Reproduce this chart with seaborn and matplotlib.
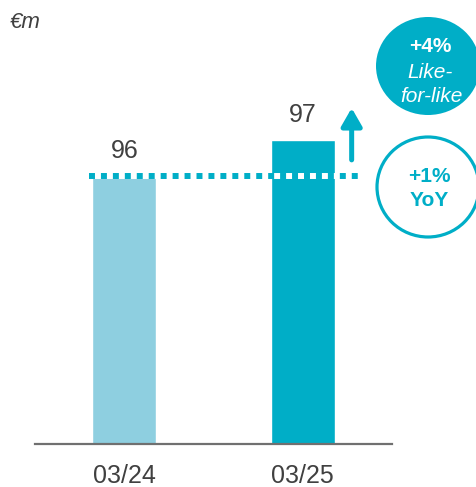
import matplotlib
matplotlib.use("Agg")
import matplotlib.pyplot as plt
import seaborn as sns
import pandas as pd
from matplotlib.patches import Ellipse

periods = ["03/24", "03/25"]
values = [96, 97]
bar_colors = ["#8ECFE0", "#00AEC7"]
unit_label = "€m"
lfl_label = ["+4%", "Like-", "for-like"]
yoy_label = ["+1%", "YoY"]

sns.set_theme(style="white")
plt.rcParams["font.family"] = ["Liberation Sans", "DejaVu Sans"]

W, H = 476, 487
fig = plt.figure(figsize=(W / 100, H / 100), dpi=100)
ax = fig.add_axes([35 / W, (H - 444) / H, (392 - 35) / W, 444 / H])

df = pd.DataFrame({"period": periods, "value": values})
sns.barplot(data=df, x="period", y="value", hue="period", palette=bar_colors,
            width=0.36, legend=False, ax=ax, saturation=1)
ax.set_xlim(-0.5, 1.5)
ax.set_ylim(88.56, 100.89)
ax.set_xlabel("")
ax.set_ylabel("")
ax.set_yticks([])
for s in ["top", "left", "right"]:
    ax.spines[s].set_visible(False)
ax.spines["bottom"].set_color("#707070")
ax.spines["bottom"].set_linewidth(1.6)
ax.tick_params(axis="x", length=0, pad=14.5, labelsize=18, labelcolor="#404040")

for i, v in enumerate(values):
    ax.text(i, v + 0.49, f"{v}", ha="center", va="baseline", fontsize=18, color="#404040")

# dotted reference line at prior-year level
ax.plot([-0.2, 1.31], [values[0], values[0]], color="white", lw=4.3, solid_capstyle="butt", zorder=4)
ax.plot([-0.2, 1.31], [values[0], values[0]], color="#00AEC7", lw=4.3,
        linestyle=(0, (1, 1)), dash_capstyle="butt", zorder=5)

# up arrow
ax.annotate("", xy=(1.274, values[1] + 0.89), xytext=(1.274, values[0] + 0.45),
            arrowprops=dict(arrowstyle="-|>,head_length=0.54,head_width=0.31",
                            color="#00AEC7", lw=3.6, shrinkA=0, shrinkB=0,
                            mutation_scale=20), zorder=6)

# overlay for annotation bubbles (pixel coordinates)
ov = fig.add_axes([0, 0, 1, 1])
ov.set_xlim(0, W)
ov.set_ylim(H, 0)
ov.axis("off")
ov.patch.set_alpha(0)

ov.text(10, 22, unit_label, fontsize=16, style="italic", color="#404040", ha="left", va="center")

ov.add_patch(Ellipse((428, 66), 104, 98, color="#00AEC7", lw=0))
ov.text(430, 46, lfl_label[0], fontsize=15, fontweight="bold", color="white", ha="center", va="center")
ov.text(430, 72, lfl_label[1], fontsize=15, style="italic", color="white", ha="center", va="center")
ov.text(431, 97, lfl_label[2], fontsize=15, style="italic", color="white", ha="center", va="center")

ov.add_patch(Ellipse((428, 187), 102, 100, facecolor="white", edgecolor="#00AEC7", lw=2.3))
ov.text(429, 177, yoy_label[0], fontsize=15, fontweight="bold", color="#00AEC7", ha="center", va="center")
ov.text(429, 201, yoy_label[1], fontsize=15, fontweight="bold", color="#00AEC7", ha="center", va="center")

fig.savefig("out.png", dpi=100)
